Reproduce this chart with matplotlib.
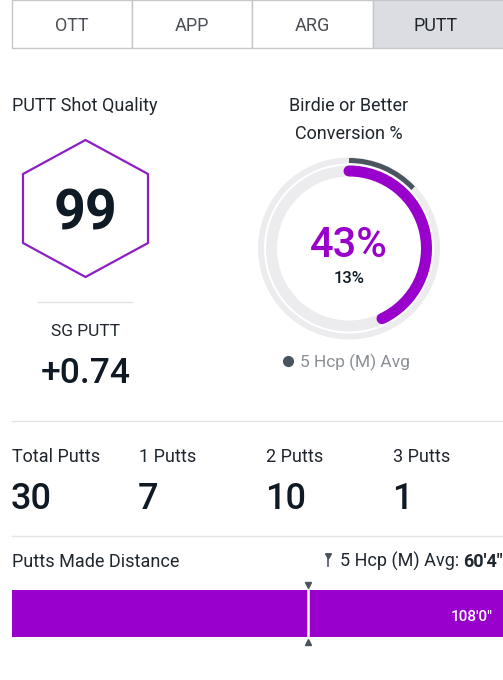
import matplotlib
matplotlib.use("Agg")
import matplotlib.pyplot as plt
from matplotlib.patches import Rectangle, Polygon, Arc, Circle

plt.rcParams['font.family'] = ['Roboto', 'DejaVu Sans']

# data
tabs = ["OTT", "APP", "ARG", "PUTT"]
active_tab = "PUTT"
shot_quality = 99
sg_putt = 0.74
birdie_pct = 43          # player conversion %
birdie_avg_pct = 13      # 5 Hcp (M) avg
stat_labels = ["Total Putts", "1 Putts", "2 Putts", "3 Putts"]
stat_values = [30, 7, 10, 1]
made_dist_ft = 108.0     # 108'0"
avg_dist_ft = 60 + 4 / 12.0   # 60'4"
dist_scale_max = 100.0

PURPLE = "#9900cc"
HEX_PURPLE = "#8c1ec4"
DARK = "#0f1a24"
TEXT = "#1f262e"
GREY_TEXT = "#8a8f96"
TRACK = "#ececee"
AVG_GREY = "#4a545f"
LINE = "#e3e4e6"

W, H = 503, 680
fig = plt.figure(figsize=(W / 100, H / 100), dpi=100)
ax = fig.add_axes([0, 0, 1, 1])
ax.set_xlim(0, W)
ax.set_ylim(H, 0)
ax.axis('off')

# tab bar
tab_x = [12, 132, 252, 373, 510]
for i, name in enumerate(tabs):
    fc = "#dcdde2" if name == active_tab else "white"
    ax.add_patch(Rectangle((tab_x[i], 0), tab_x[i + 1] - tab_x[i], 48,
                           facecolor=fc, edgecolor="#c6c7ca", lw=1))
    col = TEXT if name == active_tab else "#4a4f55"
    ax.text((tab_x[i] + min(tab_x[i + 1], 503)) / 2 - (2 if i == 3 else 0), 31,
            name, ha='center', va='baseline', fontsize=13, color=col)

# shot quality
ax.text(12, 111, "PUTT Shot Quality", fontsize=13, color=TEXT, va='baseline')
hx = [85.5, 148, 148, 85.5, 23, 23]
hy = [140, 174, 243, 277, 243, 174]
ax.add_patch(Polygon(list(zip(hx, hy)), closed=True, fill=False,
                     edgecolor=HEX_PURPLE, lw=1.6, joinstyle='round'))
ax.text(85.5, 230, str(shot_quality), ha='center', va='baseline',
        fontsize=40, fontweight='bold', color=DARK)
ax.plot([38, 132], [302, 302], color=LINE, lw=1)
ax.text(85.5, 336, "SG PUTT", ha='center', va='baseline', fontsize=12.5, color=TEXT)
ax.text(85.5, 383, f"{sg_putt:+.2f}", ha='center', va='baseline',
        fontsize=25.5, fontweight='medium', color=DARK)

# birdie conversion ring
cx, cy = 349, 248.5
ax.text(cx, 111, "Birdie or Better", ha='center', va='baseline', fontsize=13, color=TEXT)
ax.text(cx, 139, "Conversion %", ha='center', va='baseline', fontsize=13, color=TEXT)
r_out, r_in = 88, 77.5
ax.add_patch(Circle((cx, cy), r_out, fill=False, edgecolor=TRACK, lw=6 * 0.72))
ax.add_patch(Circle((cx, cy), r_in, fill=False, edgecolor=TRACK, lw=11 * 0.72))
ax.add_patch(Arc((cx, cy), 2 * r_out, 2 * r_out, theta1=-90,
                 theta2=-90 + 360 * birdie_avg_pct / 100, color=AVG_GREY,
                 lw=5 * 0.72, capstyle='butt'))
ax.add_patch(Arc((cx, cy), 2 * r_in, 2 * r_in, theta1=-90,
                 theta2=-90 + 360 * birdie_pct / 100, color=PURPLE,
                 lw=11 * 0.72, capstyle='round'))
ax.text(cx, 257, f"{birdie_pct}%", ha='center', va='baseline', fontsize=30,
        fontweight='medium', color=PURPLE)
ax.text(cx, 283, f"{birdie_avg_pct}%", ha='center', va='baseline',
        fontsize=12, fontweight='medium', color=DARK)
ax.plot(288, 361, 'o', ms=7, color=AVG_GREY)
ax.text(300, 367, "5 Hcp (M) Avg", va='baseline', fontsize=12.5, color=GREY_TEXT)

ax.plot([12, 503], [420.5, 420.5], color=LINE, lw=1)

# putt counts
stat_x = [12, 139, 266, 393]
for x, lab, val in zip(stat_x, stat_labels, stat_values):
    ax.text(x, 462, lab, va='baseline', fontsize=13, color=TEXT)
    ax.text(x - 1, 509, str(val), va='baseline', fontsize=26,
            fontweight='medium', color=DARK)

ax.plot([12, 503], [535.5, 535.5], color=LINE, lw=1)

# putts made distance
ax.text(12, 567, "Putts Made Distance", va='baseline', fontsize=13, color=TEXT)
val_txt = ax.text(503, 567, "60'4\"", ha='right', va='baseline', fontsize=13,
                  fontweight='bold', color=TEXT)
ax.annotate("5 Hcp (M) Avg: ", xy=(0, 0), xycoords=val_txt, ha='right',
            va='bottom', fontsize=13, color=TEXT)
ax.plot([328, 328], [556, 566], color=AVG_GREY, lw=1.2)
ax.plot(328, 554.5, marker=(3, 0, 180), ms=5, color=AVG_GREY)

bar_ax = fig.add_axes([12 / W, 1 - 637 / H, (503 - 12) / W, 47 / H])
bar_ax.set_xlim(0, dist_scale_max)
bar_ax.set_ylim(0, 1)
bar_ax.axis('off')
bar_ax.barh(0.5, min(made_dist_ft, dist_scale_max), height=1.0, color=PURPLE)
bar_ax.axvline(avg_dist_ft, color='white', lw=1.8)
bar_ax.plot(avg_dist_ft, 1.1, marker='v', ms=5, color=AVG_GREY, clip_on=False)
bar_ax.plot(avg_dist_ft, -0.1, marker='^', ms=5, color=AVG_GREY, clip_on=False)
bar_ax.text(dist_scale_max - 2, 0.35, "%d'%d\"" % (int(made_dist_ft), round((made_dist_ft % 1) * 12)),
            ha='right', va='baseline', fontsize=11, fontweight='medium', color='white')

fig.savefig("out.png", dpi=100)
